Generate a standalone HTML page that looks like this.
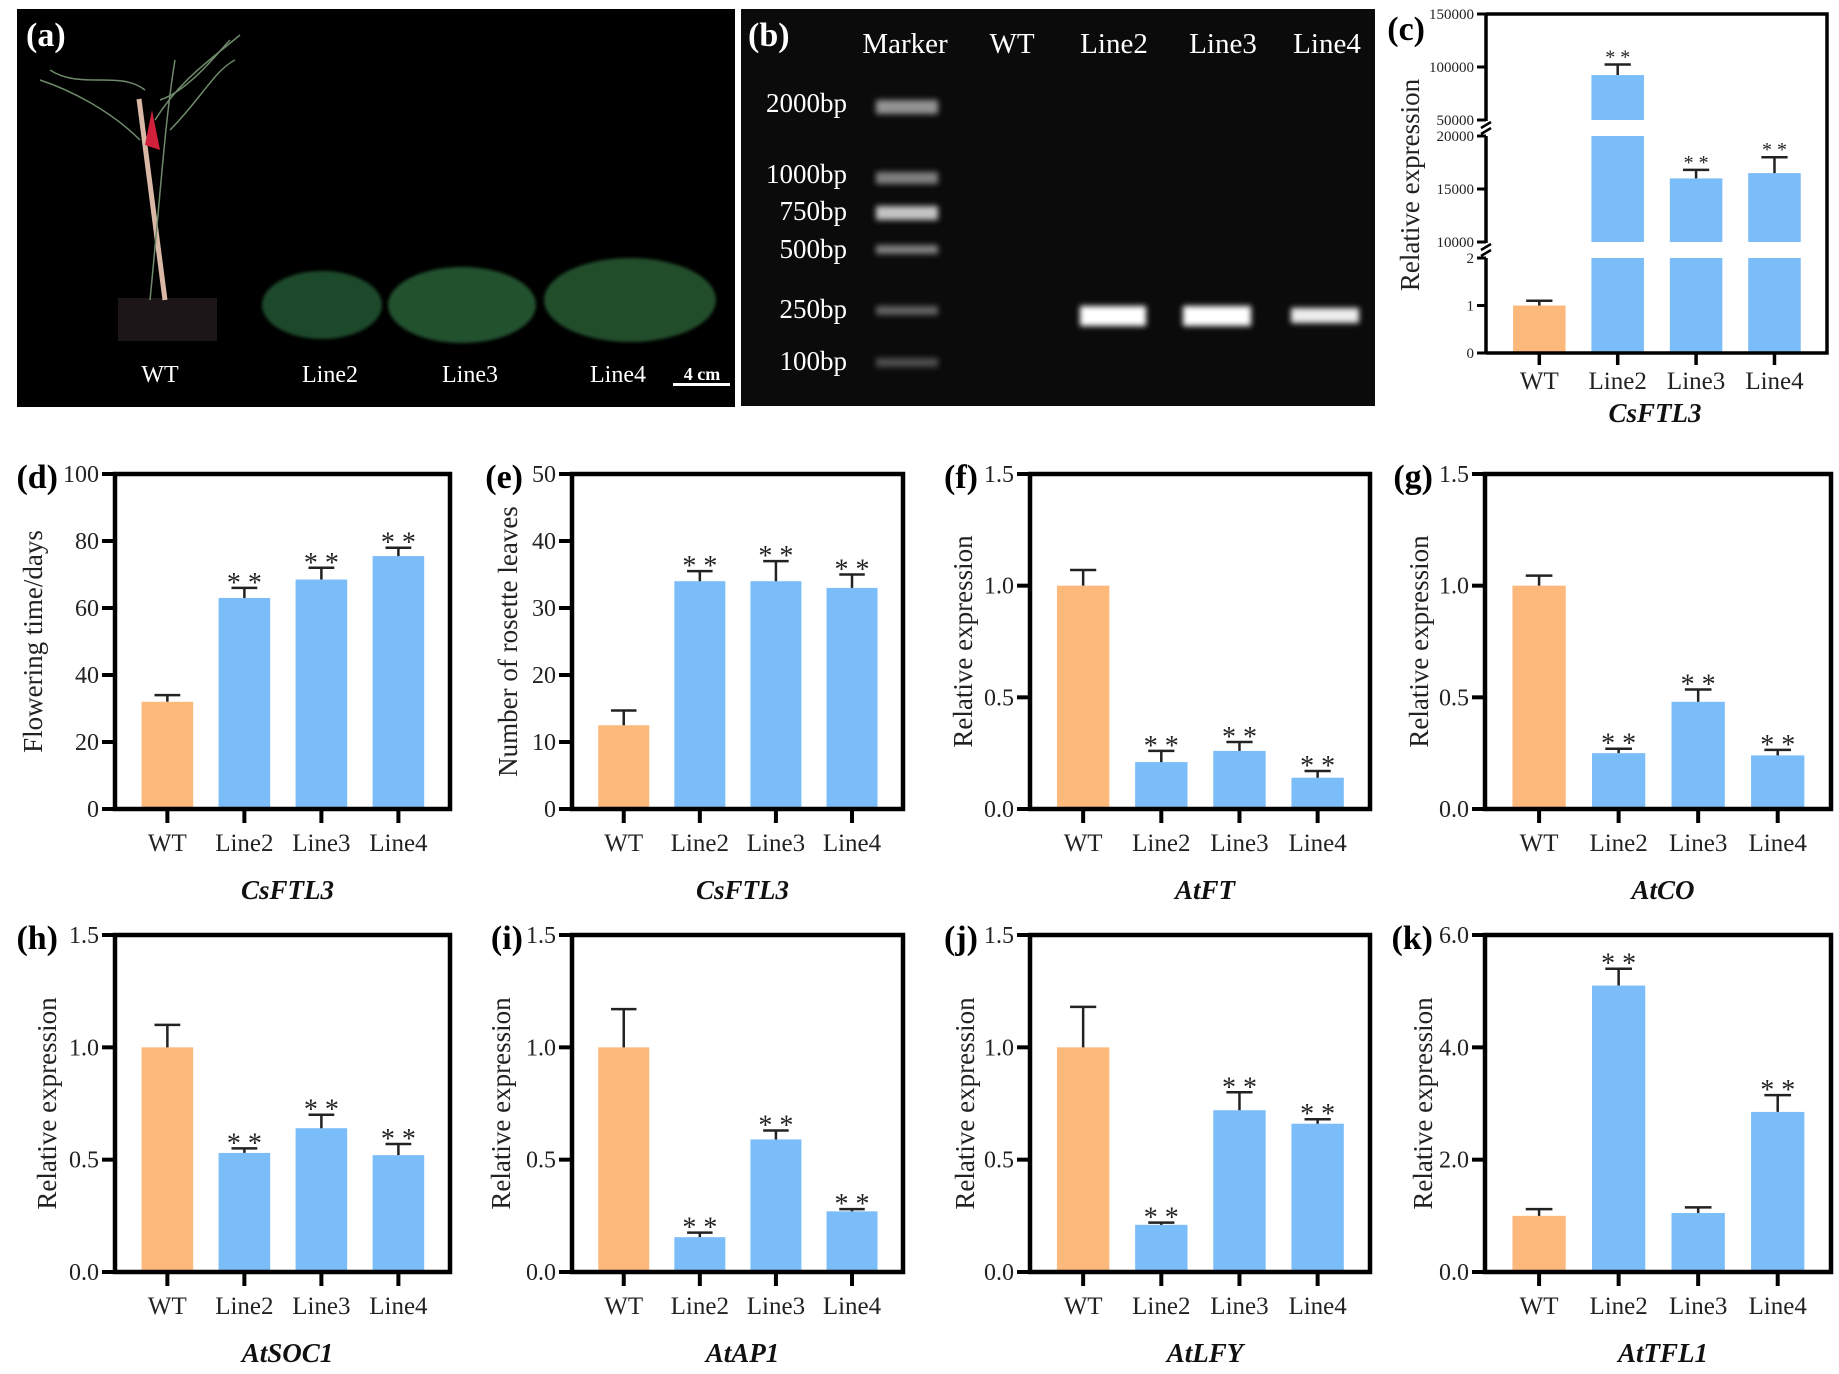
<!DOCTYPE html>
<html><head><meta charset="utf-8">
<style>
html,body{margin:0;padding:0;background:#fff;}
svg{display:block;}
text{font-family:"Liberation Serif",serif;}
</style></head>
<body>
<svg id="fig" width="1839" height="1374" viewBox="0 0 1839 1374" xmlns="http://www.w3.org/2000/svg">
  <defs>
    <filter id="blur2"><feGaussianBlur stdDeviation="3"/></filter>
    <filter id="blur1"><feGaussianBlur stdDeviation="1.5"/></filter>
  </defs>
  <g>
    <rect x="17" y="9" width="718" height="398" fill="#000"/>
    <text x="26" y="46" font-size="34" font-weight="bold" fill="#fff">(a)</text>
    <rect x="118" y="298" width="99" height="43" fill="#1c1618"/>
    <line x1="139" y1="99" x2="165" y2="300" stroke="#d9b9a6" stroke-width="5"/>
    <path d="M145 145 L152 110 L160 150 Z" fill="#d0203a"/>
    <g stroke="#6e8a6a" stroke-width="1.5" fill="none">
      <path d="M150 300 C160 200 165 120 175 60"/><path d="M155 120 C180 80 210 60 240 35"/>
      <path d="M140 140 C110 110 70 90 40 80"/><path d="M160 100 C190 90 220 50 230 40"/>
      <path d="M170 130 C200 100 215 70 235 60"/><path d="M145 90 C120 70 80 90 50 70"/>
    </g>
    <ellipse cx="322" cy="305" rx="60" ry="34" fill="#1f4a2a" filter="url(#blur1)"/>
    <ellipse cx="462" cy="305" rx="74" ry="38" fill="#24512f" filter="url(#blur1)"/>
    <ellipse cx="630" cy="300" rx="86" ry="42" fill="#234e2c" filter="url(#blur1)"/>
    <g fill="#fff" font-size="24" text-anchor="middle">
      <text x="160" y="382">WT</text><text x="330" y="382">Line2</text>
      <text x="470" y="382">Line3</text><text x="618" y="382">Line4</text>
      <text x="702" y="380" font-size="18" font-weight="bold">4 cm</text>
    </g>
    <rect x="673" y="383" width="57" height="3" fill="#fff"/>
  </g>
  <g>
    <rect x="741" y="9" width="634" height="397" fill="#0b0b0b"/>
    <text x="748" y="46" font-size="34" font-weight="bold" fill="#fff">(b)</text>
    <g fill="#fff" font-size="29" text-anchor="middle">
      <text x="905" y="53">Marker</text><text x="1012" y="53">WT</text>
      <text x="1114" y="53">Line2</text><text x="1223" y="53">Line3</text><text x="1327" y="53">Line4</text>
    </g>
    <g fill="#fff" font-size="27" text-anchor="end">
      <text x="847" y="112">2000bp</text><text x="847" y="183">1000bp</text>
      <text x="847" y="220">750bp</text><text x="847" y="258">500bp</text>
      <text x="847" y="318">250bp</text><text x="847" y="370">100bp</text>
    </g>
    <g fill="#cfcfcf" filter="url(#blur2)">
      <rect x="876" y="100" width="62" height="14" opacity="0.7"/>
      <rect x="876" y="172" width="62" height="12" opacity="0.6"/>
      <rect x="876" y="206" width="62" height="14" opacity="0.95"/>
      <rect x="876" y="245" width="62" height="9" opacity="0.6"/>
      <rect x="876" y="306" width="62" height="9" opacity="0.45"/>
      <rect x="876" y="358" width="62" height="9" opacity="0.35"/>
      <rect x="1080" y="306" width="66" height="20" fill="#fff"/>
      <rect x="1183" y="306" width="68" height="20" fill="#fff"/>
      <rect x="1291" y="308" width="68" height="15" fill="#eee"/>
    </g>
  </g>
  <g id="charts"></g>
</svg>
<script>
const categories = ["WT","Line2","Line3","Line4"];
const cVals = [1, 92400, 16000, 16500];
const cErr  = [0.1, 10000, 800, 1500];
const cSig  = [false, true, true, true];
const dVals = [32, 63, 68.5, 75.5];
const dErr  = [2, 3, 3.5, 2.5];
const dTicks = [0, 20, 40, 60, 80, 100];
const eVals = [12.5, 34, 34, 33];
const eErr  = [2.2, 1.5, 3, 2];
const eTicks = [0, 10, 20, 30, 40, 50];
const fVals = [1.0, 0.21, 0.26, 0.14];
const fErr  = [0.07, 0.05, 0.04, 0.03];
const gVals = [1.0, 0.25, 0.48, 0.24];
const gErr  = [0.045, 0.02, 0.055, 0.025];
const hVals = [1.0, 0.53, 0.64, 0.52];
const hErr  = [0.1, 0.02, 0.06, 0.05];
const iVals = [1.0, 0.155, 0.59, 0.27];
const iErr  = [0.17, 0.02, 0.04, 0.01];
const jVals = [1.0, 0.21, 0.72, 0.66];
const jErr  = [0.18, 0.01, 0.08, 0.02];
const kVals = [1.0, 5.1, 1.05, 2.85];
const kErr  = [0.12, 0.3, 0.1, 0.3];
const relTicks = [0, 0.5, 1.0, 1.5];
const relTickLabels = ["0.0","0.5","1.0","1.5"];
const kTicks = [0, 2, 4, 6];
const kTickLabels = ["0.0","2.0","4.0","6.0"];
const sigDEK = [false, true, true, true];
const sigK = [false, true, false, true];

const NS = "http://www.w3.org/2000/svg";
const root = document.getElementById("charts");
const ORANGE = "#fdb97c", BLUE = "#7bbdf8";
function mk(tag, attrs, parent){ const e=document.createElementNS(NS,tag); for(const k in attrs) e.setAttribute(k,attrs[k]); (parent||root).appendChild(e); return e; }

function panel(o){
  const g = mk("g",{});
  
  
  const L=o.x0, R=o.x1, T=o.y0, B=o.y1;
  const vmax = o.ticks[o.ticks.length-1];
  const y = v => B - (v/vmax)*(B-T);
  const step = (R-L)/4.35;
  const xc = i => L + step*(0.68 + i);
  const bw = step*0.67;
  o.vals.forEach((v,i)=>{
    const r = mk("rect",{x:xc(i)-bw/2, y:y(v), width:bw, height:B-y(v), fill:i===0?ORANGE:BLUE}, g);
    
    
    const top = y(v+o.err[i]);
    const eb = mk("path",{d:`M${xc(i)} ${y(v)} V${top} M${xc(i)-bw*0.25} ${top} H${xc(i)+bw*0.25}`, stroke:"#222", "stroke-width":2.5, fill:"none"}, g);
    
    
    if(o.sig[i]){
      const s = mk("text",{x:xc(i), y:top+4, "font-size":28, "text-anchor":"middle", fill:"#222"}, g);
      s.textContent = "* *";
      
      
    }
  });
  mk("rect",{x:L, y:T, width:R-L, height:B-T, fill:"none", stroke:"#000", "stroke-width":4.5}, g);
  o.ticks.forEach((t,i)=>{
    mk("line",{x1:L-13, x2:L, y1:y(t), y2:y(t), stroke:"#000", "stroke-width":4}, g);
    const tx = mk("text",{x:L-16, y:y(t)+8, "font-size":24, "text-anchor":"end", fill:"#222"}, g);
    tx.textContent = o.labels ? o.labels[i] : t;
    
    
  });
  categories.forEach((c,i)=>{
    mk("line",{x1:xc(i), x2:xc(i), y1:B, y2:B+14, stroke:"#000", "stroke-width":4}, g);
    const tx = mk("text",{x:xc(i), y:B+42, "font-size":25, "text-anchor":"middle", fill:"#222"}, g);
    tx.textContent = c;
    
    
  });
  const yl = mk("text",{x:0,y:0,"font-size":27,"text-anchor":"middle",fill:"#222",transform:`translate(${o.ylx},${(T+B)/2}) rotate(-90)`}, g);
  yl.textContent = o.ylabel;
  
  
  const xt = mk("text",{x:(L+R)/2+5, y:B+90, "font-size":27, "font-weight":"bold", "font-style":"italic", "text-anchor":"middle", fill:"#111"}, g);
  xt.textContent = o.title;
  
  
  const pl = mk("text",{x:o.lx, y:T+14, "font-size":34, "font-weight":"bold", "text-anchor":"end", fill:"#000"}, g);
  pl.textContent = "(" + o.id + ")";
  
  
}

const cols = [[115,450],[572,903],[1030,1370],[1485,1831]];
const r2=[474,809], r3=[935,1272];
const RE="Relative expression";
panel({id:"d",x0:cols[0][0],x1:cols[0][1],y0:r2[0],y1:r2[1],vals:dVals,err:dErr,sig:sigDEK,ticks:dTicks,ylabel:"Flowering time/days",title:"CsFTL3",ylx:42,lx:58});
panel({id:"e",x0:cols[1][0],x1:cols[1][1],y0:r2[0],y1:r2[1],vals:eVals,err:eErr,sig:sigDEK,ticks:eTicks,ylabel:"Number of rosette leaves",title:"CsFTL3",ylx:517,lx:523});
panel({id:"f",x0:cols[2][0],x1:cols[2][1],y0:r2[0],y1:r2[1],vals:fVals,err:fErr,sig:sigDEK,ticks:relTicks,labels:relTickLabels,ylabel:RE,title:"AtFT",ylx:972,lx:978});
panel({id:"g",x0:cols[3][0],x1:cols[3][1],y0:r2[0],y1:r2[1],vals:gVals,err:gErr,sig:sigDEK,ticks:relTicks,labels:relTickLabels,ylabel:RE,title:"AtCO",ylx:1428,lx:1433});
panel({id:"h",x0:cols[0][0],x1:cols[0][1],y0:r3[0],y1:r3[1],vals:hVals,err:hErr,sig:sigDEK,ticks:relTicks,labels:relTickLabels,ylabel:RE,title:"AtSOC1",ylx:56,lx:58});
panel({id:"i",x0:cols[1][0],x1:cols[1][1],y0:r3[0],y1:r3[1],vals:iVals,err:iErr,sig:sigDEK,ticks:relTicks,labels:relTickLabels,ylabel:RE,title:"AtAP1",ylx:510,lx:523});
panel({id:"j",x0:cols[2][0],x1:cols[2][1],y0:r3[0],y1:r3[1],vals:jVals,err:jErr,sig:sigDEK,ticks:relTicks,labels:relTickLabels,ylabel:RE,title:"AtLFY",ylx:974,lx:978});
panel({id:"k",x0:cols[3][0],x1:cols[3][1],y0:r3[0],y1:r3[1],vals:kVals,err:kErr,sig:sigK,ticks:kTicks,labels:kTickLabels,ylabel:RE,title:"AtTFL1",ylx:1432,lx:1433});

const cSegDomain = [[0,2],[10000,20000],[50000,150000]];
const cSegTicks = [[0,1,2],[10000,15000,20000],[50000,100000,150000]];
(function(){
  const g = mk("g",{});
  
  
  const L=1486, R=1827, B=353;
  const segPx = [[353,258],[242,136],[120,14]];
  const step=(R-L)/4.35, bw=step*0.67;
  const xc = i => L + step*(0.68+i);
  const seg = (s,v) => segPx[s][0] - (v-cSegDomain[s][0])/(cSegDomain[s][1]-cSegDomain[s][0])*(segPx[s][0]-segPx[s][1]);
  function yOf(v){ for(let s=2;s>=0;s--){ if(v>=cSegDomain[s][0]) return seg(s,Math.min(v,cSegDomain[s][1])); } return seg(0,v); }
  cVals.forEach((v,i)=>{
    for(let s=0;s<3;s++){
      if(v<=cSegDomain[s][0]) continue;
      const top = seg(s, Math.min(v, cSegDomain[s][1]));
      const bot = segPx[s][0];
      const r = mk("rect",{x:xc(i)-bw/2, y:top, width:bw, height:bot-top, fill:i===0?ORANGE:BLUE}, g);
      
      
    }
    const yv = yOf(v), yt = yOf(v+cErr[i]);
    const eb = mk("path",{d:`M${xc(i)} ${yv} V${yt} M${xc(i)-bw*0.25} ${yt} H${xc(i)+bw*0.25}`, stroke:"#222","stroke-width":2.5,fill:"none"}, g);
    
    
    if(cSig[i]){
      const s = mk("text",{x:xc(i), y:yt-1, "font-size":20, "text-anchor":"middle", fill:"#222"}, g);
      s.textContent="* *";
      
      
    }
  });
  mk("path",{d:`M${L} 14 H${R} V${B} H${L}`, fill:"none", stroke:"#000","stroke-width":3.5}, g);
  segPx.forEach(p=>mk("line",{x1:L,x2:L,y1:p[0]+1,y2:p[1],stroke:"#000","stroke-width":3.5},g));
  [[258,242],[136,120]].forEach(b=>{
    mk("path",{d:`M${L-5} ${b[0]-2} L${L+5} ${b[0]-8} M${L-5} ${b[1]+8} L${L+5} ${b[1]+2}`,stroke:"#000","stroke-width":2.5,fill:"none"},g);
  });
  cSegTicks.forEach((ts,s)=>ts.forEach(t=>{
    const yy = seg(s,t);
    mk("line",{x1:L-9,x2:L,y1:yy,y2:yy,stroke:"#000","stroke-width":3},g);
    const tx = mk("text",{x:L-12,y:yy+5,"font-size":15,"text-anchor":"end",fill:"#222"},g);
    tx.textContent = t;
    
    
  }));
  categories.forEach((c,i)=>{
    mk("line",{x1:xc(i),x2:xc(i),y1:B,y2:B+12,stroke:"#000","stroke-width":3.5},g);
    const tx = mk("text",{x:xc(i),y:B+36,"font-size":25,"text-anchor":"middle",fill:"#222"},g);
    tx.textContent=c;
    
    
  });
  const yl = mk("text",{x:0,y:0,"font-size":27,"text-anchor":"middle",fill:"#222",transform:`translate(1419,185) rotate(-90)`},g);
  yl.textContent="Relative expression";
  
  
  const xt = mk("text",{x:1655,y:422,"font-size":27,"font-weight":"bold","font-style":"italic","text-anchor":"middle",fill:"#111"},g);
  xt.textContent="CsFTL3";
  
  
  const pl = mk("text",{x:1425,y:40,"font-size":34,"font-weight":"bold","text-anchor":"end",fill:"#000"},g);
  pl.textContent="(c)";
  
  
})();
</script>
</body></html>
